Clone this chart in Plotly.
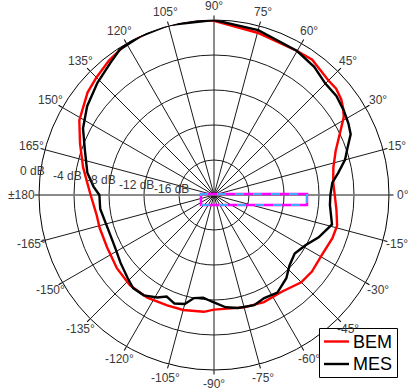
import math
import plotly.graph_objects as go

# Directivity levels (dB) versus angle (degrees)
bem_theta = [0, 6, 13, 20, 26, 31, 34, 37, 41, 45, 54, 60, 75, 90, 96, 108, 120, 128, 135, 141,
             151, 159, 168, 174, 180, 190, 196, 206, 217, 227, 237, 247, 255, 265, 270, 285,
             295, 305, 315, 322, 331, 340, 346, 353]
bem_db = [-6.2, -6.3, -6.0, -5.2, -4.0, -2.7, -2.2, -1.8, -1.5, -1.5, -0.9, -1.0, -0.8, -0.1, 0.1,
          0.2, 0.0, -0.5, -1.0, -1.4, -2.4, -3.6, -4.7, -5.4, -5.9, -6.4, -6.4, -6.4, -6.1, -5.9,
          -6.0, -6.3, -6.4, -6.6, -6.9, -6.7, -6.5, -6.5, -5.9, -5.8, -5.9, -5.6, -5.5, -5.9]

mes_theta = [0, 6, 10, 15, 19, 24, 28, 33, 39, 45, 52, 60, 75, 90, 105, 115, 123, 128, 136, 145,
             153, 161, 170, 176, 180, 187, 194, 201, 208, 216, 224, 229, 235, 241, 245, 250, 255,
             259, 264, 269, 276, 282, 290, 296, 303, 311, 317, 324, 331, 338, 346, 355]
mes_db = [-6.7, -6.4, -5.6, -4.5, -3.9, -2.9, -2.6, -2.3, -2.0, -2.0, -1.4, -1.0, -0.5, 0.0, 0.1,
          0.0, -0.2, -0.8, -1.5, -2.3, -3.2, -4.4, -5.3, -6.2, -6.9, -6.9, -7.2, -7.3, -7.2, -6.8,
          -6.3, -5.9, -6.0, -6.6, -7.2, -6.8, -7.1, -8.0, -8.2, -7.8, -7.1, -6.8, -6.6, -6.9, -6.7,
          -7.4, -8.2, -8.6, -8.1, -7.1, -6.1, -6.7]

series_names = ["BEM", "MES"]
series_colors = ["#ff0000", "#000000"]

r_min, r_max = -20, 0
ring_vals = [-16, -12, -8, -4, 0]
ring_text = ["-16 dB", "-12 dB", "-8 dB", "-4 dB", "0 dB"]
ring_label_angle = 172.5

angle_vals = list(range(0, 360, 15))
angle_text = [("\u00b1180" if a == 180 else f"{a if a < 180 else a - 360}\u00b0") for a in angle_vals]

FONT = "Liberation Sans, Arial, sans-serif"
LABEL_COLOR = "#3a3a3a"
LINE_W = 2.4

W, H = 410, 390
cx, cy, R = 214, 195, 175   # polar centre and outer radius, in pixels


def to_paper(radius_px, ang_deg):
    a = math.radians(ang_deg)
    return (cx + radius_px * math.cos(a)) / W, (H - cy + radius_px * math.sin(a)) / H


def db_to_px(v):
    return (v - r_min) / (r_max - r_min) * R


def px(x, y):
    return x / W, (H - y) / H


fig = go.Figure()

# horizontal reference line through the centre (0 / 180 deg)
fig.add_trace(go.Scatterpolar(
    r=[r_max, r_min, r_max], theta=[180, 180, 0], mode="lines",
    line=dict(color="#8a8a8a", width=1.5), showlegend=False, hoverinfo="skip"))

for name, color, th, vals in zip(series_names, series_colors,
                                 [bem_theta, mes_theta], [bem_db, mes_db]):
    fig.add_trace(go.Scatterpolar(
        r=vals + vals[:1], theta=th + th[:1], mode="lines",
        name=name, line=dict(color=color, width=LINE_W), showlegend=False))

annotations = []
# angular labels, centred just outside the outer circle
for a, t in zip(angle_vals, angle_text):
    off = 18 if a == 180 else 14
    x, y = to_paper(R + off, a)
    annotations.append(dict(x=x, y=y, xref="paper", yref="paper", text=t, showarrow=False,
                            xanchor="center", yanchor="middle",
                            font=dict(family=FONT, size=12, color=LABEL_COLOR)))
# ring labels along one direction
for v, t in zip(ring_vals, ring_text):
    x, y = to_paper(db_to_px(v) + 8, ring_label_angle)
    annotations.append(dict(x=x, y=y, xref="paper", yref="paper", text=t, showarrow=False,
                            xanchor="center", yanchor="middle",
                            font=dict(family=FONT, size=12, color=LABEL_COLOR)))

shapes = [
    # highlighted region near the centre
    dict(type="rect", xref="paper", yref="paper",
         x0=201 / W, x1=307 / W, y0=(H - 205) / H, y1=(H - 194) / H,
         line=dict(color="#ff00ff", width=2.5), fillcolor="rgba(0,0,0,0)"),
    dict(type="rect", xref="paper", yref="paper",
         x0=201 / W, x1=307 / W, y0=(H - 205) / H, y1=(H - 194) / H,
         line=dict(color="#00e5ff", width=1.5, dash="dash"), fillcolor="rgba(0,0,0,0)"),
]

# legend box
lx0, ly0, lx1, ly1 = 319.5, 328.5, 397.5, 377.5
bx0, by0 = px(lx0, ly0)
bx1, by1 = px(lx1, ly1)
shapes.append(dict(type="rect", xref="paper", yref="paper", x0=bx0, x1=bx1, y0=by1, y1=by0,
                   line=dict(color="#000000", width=1), fillcolor="white", layer="above"))
for i, (name, color) in enumerate(zip(series_names, series_colors)):
    yy = 341.5 + i * 22.5
    sx0, sy = px(324, yy)
    sx1, _ = px(349, yy)
    shapes.append(dict(type="line", xref="paper", yref="paper", x0=sx0, x1=sx1, y0=sy, y1=sy,
                       line=dict(color=color, width=LINE_W), layer="above"))
    tx, ty = px(351, yy)
    annotations.append(dict(x=tx, y=ty, xref="paper", yref="paper", text=name, showarrow=False,
                            xanchor="left", yanchor="middle",
                            font=dict(family=FONT, size=18, color="#000000")))

fig.update_layout(
    width=W, height=H, autosize=False,
    margin=dict(l=0, r=0, t=0, b=0),
    paper_bgcolor="white", plot_bgcolor="white",
    showlegend=False,
    font=dict(family=FONT, size=12, color=LABEL_COLOR),
    polar=dict(
        domain=dict(x=[(cx - R) / W, (cx + R) / W], y=[(H - cy - R) / H, (H - cy + R) / H]),
        bgcolor="white",
        radialaxis=dict(
            range=[r_min, r_max], tickmode="array", tickvals=ring_vals,
            showticklabels=False, showline=False, ticks="",
            gridcolor="#1a1a1a", gridwidth=0.8),
        angularaxis=dict(
            rotation=0, direction="counterclockwise",
            tickmode="array", tickvals=angle_vals, showticklabels=False,
            ticks="outside", ticklen=4, tickcolor="#000000",
            showline=True, linecolor="#000000", linewidth=1,
            gridcolor="#1a1a1a", gridwidth=0.8),
    ),
    annotations=annotations,
    shapes=shapes,
)

fig.write_html("out.html")
